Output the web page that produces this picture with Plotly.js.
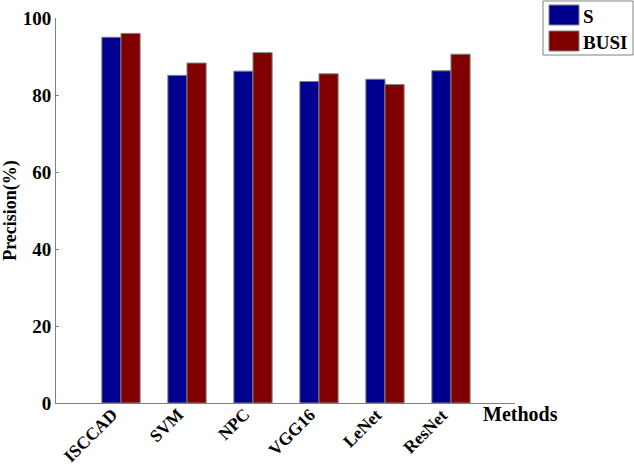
<!DOCTYPE html>
<html>
<head>
<meta charset="utf-8">
<script src="https://cdn.plot.ly/plotly-3.0.1.min.js"></script>
<style>html,body{margin:0;padding:0;background:#fff;}#chart{width:634px;height:466px;}</style>
</head>
<body>
<div id="chart"></div>
<script>
const methods = ["ISCCAD", "SVM", "NPC", "VGG16", "LeNet", "ResNet"];
const seriesNames = ["S", "BUSI"];
const sValues = [95.0, 85.1, 86.2, 83.5, 84.1, 86.3];
const busiValues = [96.0, 88.3, 91.0, 85.5, 82.7, 90.6];
const yTicks = [0, 20, 40, 60, 80, 100];
const colors = ["#00008F", "#800000"];

const font = "'Liberation Serif', 'Times New Roman', serif";
const txt = (size) => ({family: font, size: size, color: "#000", weight: "bold"});

const traces = [
  {type: "bar", name: seriesNames[0], x: methods, y: sValues,
   marker: {color: colors[0], line: {color: "#808080", width: 1}}},
  {type: "bar", name: seriesNames[1], x: methods, y: busiValues,
   marker: {color: colors[1], line: {color: "#808080", width: 1}}}
];

// legend box drawn in paper coordinates (decoration, not data)
const px = (p) => (p - 56) / 459;
const py = (p) => (403 - p) / 385;

// rotated category labels placed at each category on the x axis
const tickAnnotations = methods.map(m => ({
  text: m, xref: "x", yref: "paper", x: m, y: 0,
  xanchor: "right", yanchor: "top", textangle: -45,
  xshift: 2, yshift: 0, borderpad: 0,
  showarrow: false, font: txt(17.5)
}));

const layout = {
  width: 634, height: 466,
  margin: {l: 56, r: 119, t: 18, b: 63},
  paper_bgcolor: "#fff", plot_bgcolor: "#fff",
  barmode: "group", bargap: 0.42, bargroupgap: 0,
  showlegend: false,
  font: txt(18),
  xaxis: {
    type: "category", range: [-0.985, 5.97],
    showline: true, linecolor: "#808080", linewidth: 1,
    ticks: "", showticklabels: false,
    showgrid: false, zeroline: false
  },
  yaxis: {
    range: [0, 100], tickvals: yTicks,
    showline: true, linecolor: "#808080", linewidth: 1,
    ticks: "inside", ticklen: 3, tickcolor: "#808080",
    tickfont: txt(19),
    showgrid: false, zeroline: false,
    title: {text: "Precision(%)", standoff: 10, font: txt(18)}
  },
  shapes: [
    {type: "rect", xref: "paper", yref: "paper", x0: px(543), x1: px(633), y0: py(55), y1: py(1),
     line: {color: "#808080", width: 1}, fillcolor: "#fff"},
    {type: "rect", xref: "paper", yref: "paper", x0: px(549), x1: px(579), y0: py(25), y1: py(5),
     line: {color: "#808080", width: 1}, fillcolor: colors[0]},
    {type: "rect", xref: "paper", yref: "paper", x0: px(549), x1: px(579), y0: py(51), y1: py(31),
     line: {color: "#808080", width: 1}, fillcolor: colors[1]}
  ],
  annotations: tickAnnotations.concat([
    {text: seriesNames[0], xref: "paper", yref: "paper", x: px(581), y: py(16),
     xanchor: "left", yanchor: "middle", showarrow: false, font: txt(19)},
    {text: seriesNames[1], xref: "paper", yref: "paper", x: px(581), y: py(42),
     xanchor: "left", yanchor: "middle", showarrow: false, font: txt(19)},
    {text: "Methods", xref: "paper", yref: "paper",
     x: px(481), y: py(414), xanchor: "left", yanchor: "middle", showarrow: false,
     font: txt(20)}
  ])
};

Plotly.newPlot("chart", traces, layout, {displayModeBar: false, staticPlot: true});
</script>
</body>
</html>
